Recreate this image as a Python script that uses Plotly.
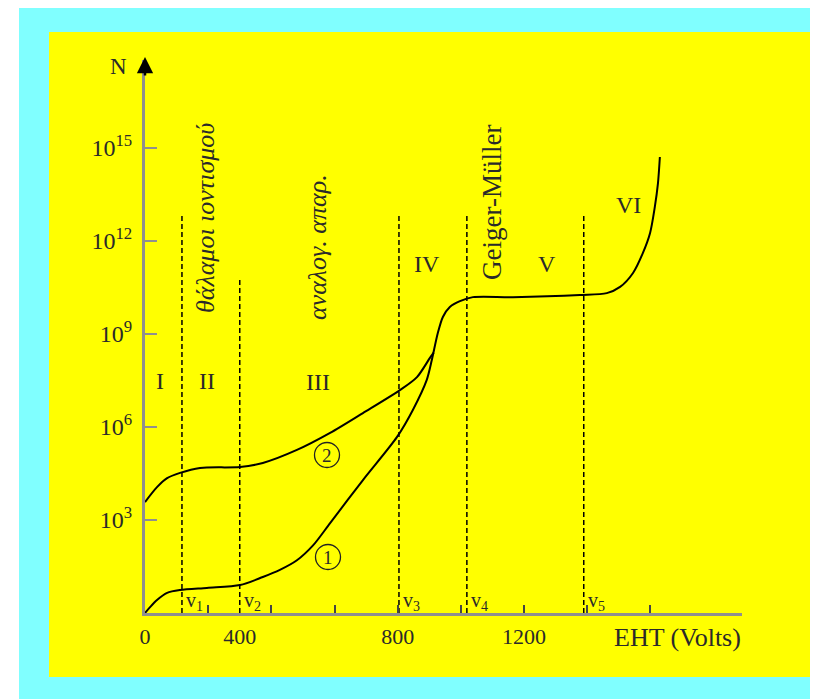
import plotly.graph_objects as go

# ---------------- data ----------------
# curve 1 (lower curve, continues through the common part)
curve1_volts = [0, 16, 38, 70, 111, 196, 301, 373, 427, 481, 532, 586, 690, 798, 848, 892, 908,
                927, 943, 965, 997, 1038, 1165, 1377, 1462, 1504, 1545, 1576, 1599, 1614, 1624, 1630]
curve1_log10N = [0.0, 0.19, 0.42, 0.65, 0.74, 0.81, 0.90, 1.16, 1.39, 1.70, 2.18, 2.90, 4.29, 5.68, 6.55, 7.52, 8.16,
                 9.03, 9.55, 9.87, 10.06, 10.19, 10.19, 10.26, 10.32, 10.52, 10.97, 11.61, 12.26, 13.10, 13.87, 14.71]

# curve 2 (upper curve, up to where it joins curve 1)
curve2_volts = [0, 38, 70, 111, 174, 301, 373, 481, 586, 690, 807, 861, 902, 914]
curve2_log10N = [3.58, 4.06, 4.35, 4.52, 4.68, 4.71, 4.84, 5.26, 5.81, 6.45, 7.19, 7.61, 8.23, 8.40]

# region boundaries v1..v5 (dashed lines)
boundary_volts = [117, 300, 804, 1019, 1389]
boundary_top_log10N = [12.84, 10.84, 12.84, 12.84, 12.84]
boundary_labels = ["v<sub>1</sub>", "v<sub>2</sub>", "v<sub>3</sub>", "v<sub>4</sub>", "v<sub>5</sub>"]

region_labels = ["I", "II", "III", "IV", "V", "VI"]
region_names = ["θάλαμοι ιοντισμού", "αναλογ. απαρ.", "Geiger-Müller"]

# axis ticks
x_tick_marks = [200, 400, 600, 800, 1000, 1200, 1400, 1600]
x_label_vals = [0, 300, 800, 1200]
x_label_text = ["0", "400", "800", "1200"]
y_tick_exponents = [3, 6, 9, 12, 15]

# ---------------- layout helpers (screen pixel -> paper) ----------------
W, H = 818, 699
OFF = 8                      # page body margin
SL, SR, ST, SB = 145, 742, 60, 613   # plot box in screen pixels
X_MAX = 1890
Y_MAX_LOG = 17.84


def fx(p):
    return (p - SL) / (SR - SL)


def fy(p):
    return (SB - p) / (SB - ST)


SERIF = "Liberation Serif, Times New Roman, serif"
TXT = "#2a2a2a"

fig = go.Figure()

# dashed boundaries
for v, top in zip(boundary_volts, boundary_top_log10N):
    fig.add_trace(go.Scatter(
        x=[v, v], y=[1, 10 ** top], mode="lines",
        line=dict(color="black", width=1.5, dash="5px,3px"),
        showlegend=False, hoverinfo="skip"))

# curves
for xs, ls in ((curve1_volts, curve1_log10N), (curve2_volts, curve2_log10N)):
    fig.add_trace(go.Scatter(
        x=xs, y=[10 ** e for e in ls], mode="lines",
        line=dict(color="black", width=2, shape="spline", smoothing=0.8),
        showlegend=False, hoverinfo="skip"))

# invisible trace for the label axis
fig.add_trace(go.Scatter(x=[0], y=[1], xaxis="x2", mode="markers",
                         marker=dict(opacity=0), showlegend=False, hoverinfo="skip"))

shapes = [
    dict(type="rect", xref="paper", yref="paper", x0=fx(19), x1=fx(840), y0=fy(720), y1=fy(6),
         fillcolor="#80FFFF", line=dict(width=0), layer="below"),
    dict(type="rect", xref="paper", yref="paper", x0=fx(49), x1=fx(810), y0=fy(677), y1=fy(32),
         fillcolor="#FFFF00", line=dict(width=0), layer="below"),
]
# circled curve numbers
circle_pos = ((327, 455), (328, 557))
for cx, cy in circle_pos:
    shapes.append(dict(type="circle", xref="paper", yref="paper",
                       x0=fx(cx - 12.5), x1=fx(cx + 12.5), y0=fy(cy + 12.5), y1=fy(cy - 12.5),
                       line=dict(color="#222", width=1.3), layer="above"))

annotations = []
# axis arrow
annotations.append(dict(xref="paper", yref="paper", x=0, y=fy(57), ax=0, ay=20, text="",
                        showarrow=True, arrowhead=2, arrowsize=1.3, arrowwidth=2.5,
                        arrowcolor="black", standoff=0))
annotations.append(dict(xref="paper", yref="paper", x=fx(118), y=fy(66), text="N",
                        xanchor="center", yanchor="middle",
                        showarrow=False, font=dict(family=SERIF, size=23, color=TXT)))
annotations.append(dict(xref="paper", yref="paper", x=fx(612), y=fy(637), text="EHT (Volts)",
                        xanchor="left", yanchor="middle",
                        showarrow=False, font=dict(family=SERIF, size=26, color=TXT)))

region_pos = [(160, 381), (207, 381), (318, 382), (427, 264), (547, 264), (628, 205)]
for lab, (px_, py_) in zip(region_labels, region_pos):
    annotations.append(dict(xref="paper", yref="paper", x=fx(px_), y=fy(py_), text=lab,
                            xanchor="center", yanchor="middle",
                            showarrow=False, font=dict(family=SERIF, size=24, color=TXT)))

name_pos = [(205, 218, True, 26), (318, 247, True, 26), (492, 203, False, 27)]
for name, (px_, py_, ital, fs) in zip(region_names, name_pos):
    annotations.append(dict(xref="paper", yref="paper", x=fx(px_), y=fy(py_),
                            text=("<i>%s</i>" % name) if ital else name, textangle=-90,
                            xanchor="center", yanchor="middle",
                            showarrow=False, font=dict(family=SERIF, size=fs, color=TXT)))

for lab, v in zip(boundary_labels, boundary_volts):
    annotations.append(dict(xref="x", yref="paper", x=v, y=fy(601), text=lab, xshift=2,
                            xanchor="left", yanchor="middle",
                            showarrow=False, font=dict(family=SERIF, size=20, color=TXT)))

for d, (cx, cy) in zip(["2", "1"], circle_pos):
    annotations.append(dict(xref="paper", yref="paper", x=fx(cx), y=fy(cy), text=d,
                            xanchor="center", yanchor="middle",
                            showarrow=False, font=dict(family=SERIF, size=19, color=TXT)))

fig.update_layout(
    width=W, height=H, autosize=False,
    margin=dict(l=SL - OFF, r=W - (SR - OFF), t=ST - OFF, b=H - (SB - OFF), pad=0),
    paper_bgcolor="white", plot_bgcolor="rgba(0,0,0,0)",
    shapes=shapes, annotations=annotations,
    xaxis=dict(range=[0, X_MAX], showgrid=False, zeroline=False,
               showline=True, linecolor="#8f8f8f", linewidth=3,
               tickmode="array", tickvals=x_tick_marks, ticks="inside", ticklen=8,
               tickwidth=1.5, tickcolor="#444", showticklabels=False),
    xaxis2=dict(range=[0, X_MAX], overlaying="x", anchor="y", side="bottom",
                showgrid=False, zeroline=False, showline=False, ticks="",
                tickmode="array", tickvals=x_label_vals, ticktext=x_label_text,
                ticklabelstandoff=8,
                tickfont=dict(family=SERIF, size=22, color=TXT)),
    yaxis=dict(type="log", range=[0, Y_MAX_LOG], showgrid=False, zeroline=False,
               showline=True, linecolor="#8f8f8f", linewidth=3,
               tickmode="array", tickvals=[10 ** e for e in y_tick_exponents],
               ticktext=["10<sup>%d</sup>" % e for e in y_tick_exponents],
               ticks="inside", ticklen=12, tickwidth=2, tickcolor="#8f8f8f",
               ticklabelstandoff=5,
               tickfont=dict(family=SERIF, size=24, color=TXT)),
)

fig.write_html("out.html")
